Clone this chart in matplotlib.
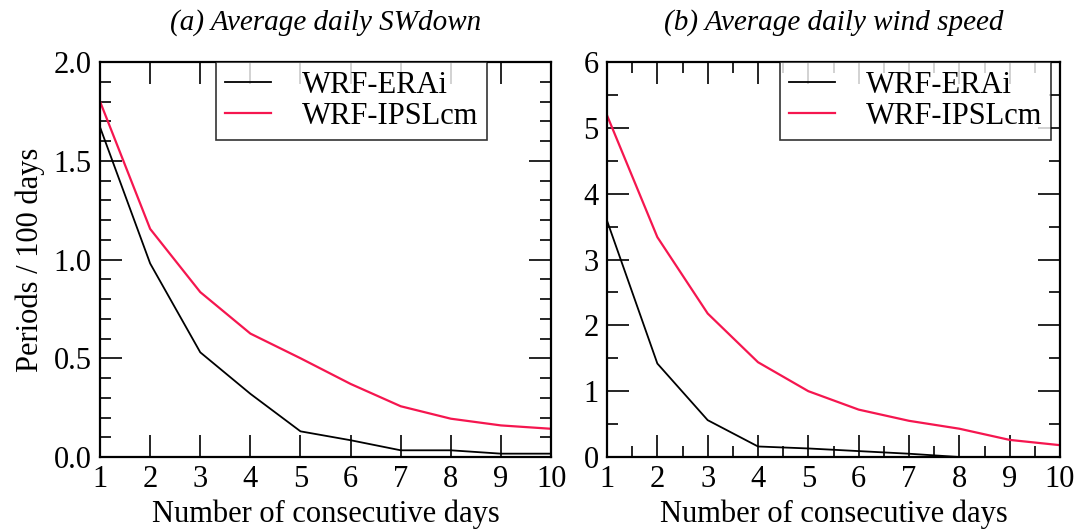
import matplotlib
matplotlib.use("Agg")
import matplotlib.pyplot as plt
import matplotlib.ticker as mticker

plt.rcParams["font.family"] = ["Liberation Serif", "DejaVu Serif"]

days = [1, 2, 3, 4, 5, 6, 7, 8, 9, 10]

# (a) average daily SWdown
sw_erai = [1.67, 0.98, 0.53, 0.32, 0.13, 0.085, 0.034, 0.034, 0.017, 0.017]
sw_ipsl = [1.80, 1.155, 0.835, 0.625, 0.50, 0.37, 0.257, 0.194, 0.16, 0.143]

# (b) average daily wind speed
ws_erai = [3.59, 1.42, 0.56, 0.16, 0.13, 0.09, 0.05, 0.0, 0.0, 0.0]
ws_ipsl = [5.19, 3.34, 2.18, 1.44, 1.00, 0.72, 0.55, 0.43, 0.26, 0.18]

red = "#f5164f"
fs = 22

fig = plt.figure(figsize=(10.78, 5.30), dpi=100)
ax1 = fig.add_axes([0.0928, 0.1377, 0.4184, 0.7453])
ax2 = fig.add_axes([0.5631, 0.1377, 0.4202, 0.7453])

panels = [
    (ax1, sw_erai, sw_ipsl, "(a) Average daily SWdown", 2.0, 0.5, 0.1, 1.0, 0.858),
    (ax2, ws_erai, ws_ipsl, "(b) Average daily wind speed", 6, 1, 0.5, 0.5, 0.980),
]

for ax, erai, ipsl, title, ymax, ymaj, ymin, xmin, legx in panels:
    ax.plot(days, erai, color="black", lw=1.3, label="WRF-ERAi")
    ax.plot(days, ipsl, color=red, lw=1.6, label="WRF-IPSLcm")
    ax.set_xlim(1, 10)
    ax.set_ylim(0, ymax)
    ax.xaxis.set_major_locator(mticker.MultipleLocator(1))
    ax.xaxis.set_minor_locator(mticker.MultipleLocator(xmin))
    ax.yaxis.set_major_locator(mticker.MultipleLocator(ymaj))
    ax.yaxis.set_minor_locator(mticker.MultipleLocator(ymin))
    ax.tick_params(which="both", direction="in", top=True, right=True,
                   labelsize=fs, width=1.2)
    ax.tick_params(which="major", length=16, pad=6)
    ax.tick_params(which="minor", length=8)
    for s in ax.spines.values():
        s.set_linewidth(1.6)
    ax.set_title(title, fontsize=fs - 1, style="italic", pad=23)
    ax.set_xlabel("Number of consecutive days", fontsize=fs, labelpad=4)
    leg = ax.legend(loc="upper right", bbox_to_anchor=(legx, 1.0), fontsize=fs,
                    frameon=True, fancybox=False, edgecolor="black",
                    handlelength=1.5, borderaxespad=0, borderpad=0.3,
                    labelspacing=0.05, handletextpad=1.0)
    leg.get_frame().set_linewidth(1.2)

ax1.yaxis.set_major_formatter(mticker.FormatStrFormatter("%.1f"))
ax1.set_ylabel("Periods / 100 days", fontsize=fs, labelpad=6)

fig.savefig("out.png", dpi=100)
